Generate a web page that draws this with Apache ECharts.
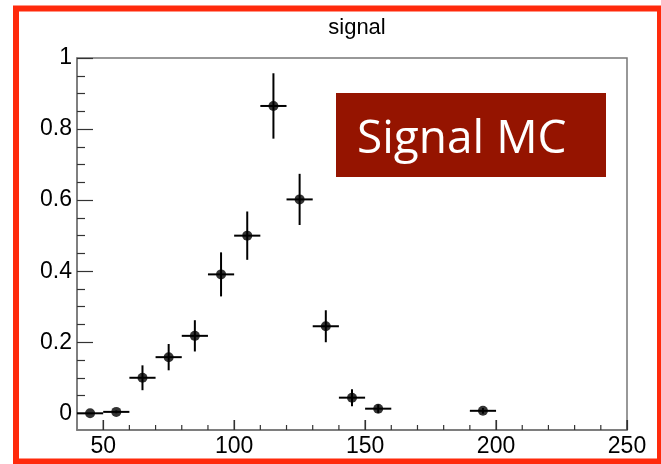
<!DOCTYPE html>
<html>
<head>
<meta charset="utf-8">
<script src="https://cdn.jsdelivr.net/npm/echarts@6/dist/echarts.min.js"></script>
<style>
html,body{margin:0;padding:0;background:#fff;}
#c{width:661px;height:464px;}
</style>
</head>
<body>
<div id="c"></div>
<script>
// ---- data ----
const binCenters = [45, 55, 65, 75, 85, 95, 105, 115, 125, 135, 145, 155, 195];
const values     = [0, 0.004, 0.1, 0.158, 0.218, 0.391, 0.5, 0.865, 0.602, 0.245, 0.044, 0.013, 0.007];
const errors     = [0, 0.004, 0.035, 0.037, 0.044, 0.062, 0.068, 0.092, 0.072, 0.045, 0.024, 0.012, 0.008];
const binHalfWidth = 5;
const xMajorTicks = [50, 100, 150, 200, 250];
const xMinorTicks = [60,70,80,90,110,120,130,140,160,170,180,190,210,220,230,240];
const yMajorTicks = [0, 0.2, 0.4, 0.6, 0.8, 1];
const yMinorTicks = [0.05,0.1,0.15,0.25,0.3,0.35,0.45,0.5,0.55,0.65,0.7,0.75,0.85,0.9,0.95];
const titleText = 'signal';
const labelText = 'Signal MC';

const chart = echarts.init(document.getElementById('c'), null, {renderer: 'canvas'});
const axisGray = '#777777';
const tickColor = '#333333';
const fmt = v => (Math.round(v * 10) / 10).toString();

const points = binCenters.map((x, i) => [x, values[i], errors[i]]);
const xTickItems = xMajorTicks.map(v => [v, 1]).concat(xMinorTicks.map(v => [v, 0]));

chart.setOption({
  animation: false,
  title: {
    text: titleText, left: 352, top: 12, textAlign: 'center',
    textStyle: {fontFamily: 'Liberation Sans', fontWeight: 'normal', fontSize: 22, color: '#000'}
  },
  grid: {left: 77, top: 58, right: 34, bottom: 34, show: true, borderColor: axisGray, borderWidth: 1.5, outerBoundsMode: 'none'},
  xAxis: [
    {type: 'value', min: 40, max: 250, position: 'bottom',
     axisLine: {show: true, onZero: false, lineStyle: {color: axisGray, width: 1.5}},
     axisTick: {show: true, inside: true, length: 10, customValues: xMajorTicks, lineStyle: {color: tickColor, width: 1.2}},
     axisLabel: {show: true, customValues: xMajorTicks, fontFamily: 'Liberation Sans', fontSize: 23, color: '#000', margin: 5},
     splitLine: {show: false}}
  ],
  yAxis: [
    {type: 'value', min: -0.047, max: 1, position: 'left',
     axisLine: {show: true, onZero: false, lineStyle: {color: axisGray, width: 1.5}},
     axisTick: {show: true, inside: true, length: 16, customValues: yMajorTicks, lineStyle: {color: tickColor, width: 1.2}},
     axisLabel: {show: true, customValues: yMajorTicks, formatter: fmt, fontFamily: 'Liberation Sans', fontSize: 23, color: '#000', margin: 5},
     splitLine: {show: false}},
    {type: 'value', min: -0.047, max: 1, position: 'left', offset: 0,
     axisLine: {show: false, onZero: false},
     axisTick: {show: true, inside: true, length: 8, customValues: yMinorTicks, lineStyle: {color: tickColor, width: 1.2}},
     axisLabel: {show: false}, splitLine: {show: false}}
  ],
  series: [
    {type: 'custom', name: 'xticks', xAxisIndex: 0, yAxisIndex: 0, data: xTickItems, silent: true,
     renderItem: function (params, api) {
       const v = api.value(0), major = api.value(1);
       const cs = params.coordSys;
       const bottomY = cs.y + cs.height;
       const p = api.coord([v, 0]);
       const len = major ? 10 : 5;
       return {type: 'line', shape: {x1: p[0], y1: bottomY, x2: p[0], y2: bottomY - len},
               style: {stroke: tickColor, lineWidth: 1.2}};
     }},
    {type: 'custom', xAxisIndex: 0, yAxisIndex: 0, data: points,
     renderItem: function (params, api) {
       const x = api.value(0), y = api.value(1), e = api.value(2);
       const l = api.coord([x - binHalfWidth, y]);
       const r = api.coord([x + binHalfWidth, y]);
       const t = api.coord([x, y + e]);
       const b = api.coord([x, y - e]);
       const style = {stroke: '#000', lineWidth: 2};
       return {type: 'group', children: [
         {type: 'line', shape: {x1: l[0], y1: l[1], x2: r[0], y2: r[1]}, style: style},
         {type: 'line', shape: {x1: t[0], y1: t[1], x2: b[0], y2: b[1]}, style: style}
       ]};
     }},
    {type: 'scatter', xAxisIndex: 0, yAxisIndex: 0, data: points.map(p => [p[0], p[1]]),
     symbol: 'circle', symbolSize: 10, itemStyle: {color: '#000'}}
  ],
  graphic: [
    {type: 'rect', shape: {x: 16, y: 8.5, width: 644, height: 453}, style: {fill: null, stroke: '#ff2a0c', lineWidth: 6}, z: 100},
    {type: 'rect', shape: {x: 336, y: 93, width: 270, height: 84}, style: {fill: '#951400'}, z: 100},
    {type: 'text', x: 357, y: 140, style: {text: labelText, fill: '#fff', font: '46px "Open Sans"', verticalAlign: 'middle', align: 'left'}, z: 101}
  ]
});
</script>
</body>
</html>
